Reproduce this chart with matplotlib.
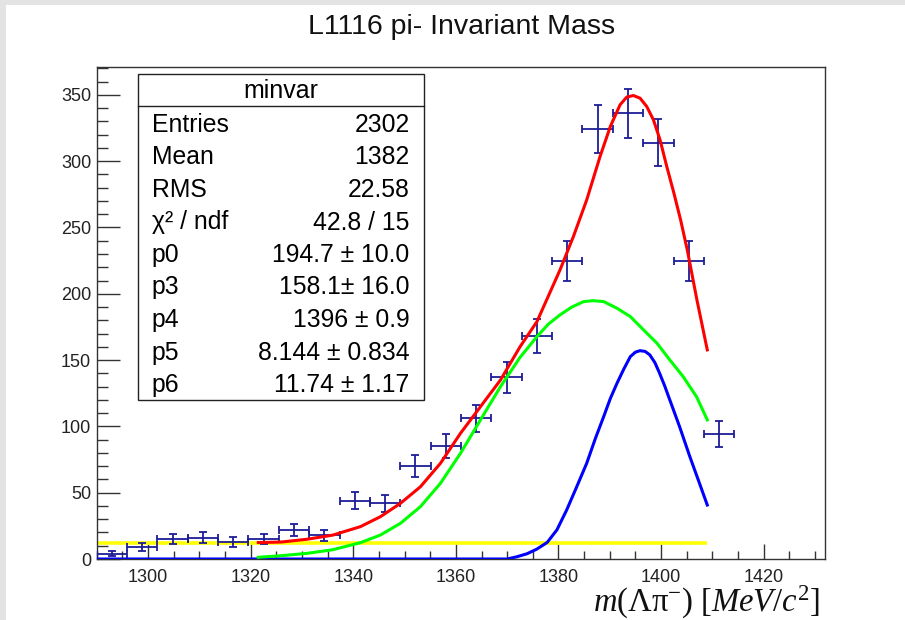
import matplotlib; matplotlib.use("Agg")
import matplotlib.pyplot as plt
from matplotlib.patches import Rectangle
from matplotlib.ticker import MultipleLocator
import numpy as np

plt.rcParams["font.family"] = ["Liberation Sans", "DejaVu Sans"]
plt.rcParams["mathtext.fontset"] = "custom"
plt.rcParams["mathtext.rm"] = "Liberation Serif"
plt.rcParams["mathtext.it"] = "Liberation Serif:italic"

# histogram (24 bins, 1290..1432), empty bins are not drawn
X_LO, X_HI, NBINS = 1290.0, 1432.0, 24
counts = [4, 9, 15, 16, 13, 15, 22, 18, 44, 42, 70, 85, 106, 137, 168, 225, 324, 336, 314, 225, 94, 0, 0, 0]
errors = [2.0, 3.0, 3.9, 4.0, 3.6, 3.9, 4.7, 4.2, 6.6, 6.5, 8.4, 9.2, 10.3, 11.7, 13.0, 15.0, 18.0, 18.3, 17.7, 15.0, 9.7, 0, 0, 0]

# fit curves
red_x = [1321.5, 1326.0, 1331.0, 1336.0, 1341.4, 1345.3, 1349.2, 1353.1, 1357.0, 1360.9, 1364.8, 1368.7,
         1372.5, 1375.8, 1380.3, 1382.9, 1385.5, 1388.1, 1390.1, 1392.0, 1393.3, 1394.6, 1395.9, 1397.2,
         1398.5, 1399.8, 1401.1, 1402.5, 1403.8, 1405.1, 1407.0, 1409.0]
red_y = [12.4, 12.8, 14.9, 18.0, 24.4, 31.9, 42.0, 54.5, 72.2, 94.8, 114.9, 135.0,
         160.0, 179.0, 218.0, 243.1, 270.8, 303.5, 326.1, 342.5, 348.3, 349.5, 347.5, 341.2,
         331.2, 316.0, 296.0, 275.8, 255.7, 233.1, 195.0, 157.7]
green_x = [1321.5, 1326.0, 1331.1, 1336.0, 1341.4, 1345.3, 1349.2, 1353.1, 1357.0, 1360.9, 1364.8, 1368.7,
           1372.5, 1375.8, 1378.0, 1380.3, 1382.6, 1384.9, 1386.8, 1388.8, 1391.4, 1394.0, 1396.6, 1399.2,
           1401.7, 1404.3, 1406.9, 1409.0]
green_y = [1.3, 2.5, 4.3, 7.0, 12.3, 18.1, 26.9, 39.5, 57.1, 79.7, 104.9, 130.0,
           152.0, 167.7, 177.0, 184.1, 190.0, 194.1, 194.8, 194.1, 189.1, 182.8, 172.7, 162.7,
           150.1, 137.5, 122.4, 104.9]
blue_x = [1290.2, 1370.0, 1371.9, 1373.9, 1375.8, 1377.8, 1379.7, 1381.6, 1383.5, 1385.5, 1387.2, 1388.8,
          1390.1, 1391.4, 1392.7, 1394.0, 1395.0, 1395.9, 1396.9, 1397.8, 1398.8, 1399.7, 1400.7, 1401.7,
          1403.6, 1405.6, 1407.3, 1409.0]
blue_y = [0.0, 0.0, 1.7, 4.0, 7.5, 12.5, 22.0, 37.0, 54.0, 72.2, 91.0, 107.3,
          121.0, 132.5, 143.0, 152.6, 156.0, 157.1, 156.5, 153.9, 148.0, 140.1, 130.5, 119.9,
          99.8, 77.2, 59.0, 40.7]
const_x = [1290.2, 1409.0]
const_y = [11.74, 11.74]

stats_labels = ["Entries", "Mean", "RMS", "\u03c7\u00b2 / ndf", "p0", "p3", "p4", "p5", "p6"]
stats_values = ["2302", "1382", "22.58", "42.8 / 15", "194.7 \u00b1 10.0", "158.1\u00b1 16.0",
                "1396 \u00b1 0.9", "8.144 \u00b1 0.834", "11.74 \u00b1 1.17"]

W, H = 905, 620
fig = plt.figure(figsize=(W / 100, H / 100), dpi=100)
fig.patch.set_facecolor("white")
# grey slide border on the left and top
fig.add_artist(Rectangle((0, 0), 6 / W, 1, transform=fig.transFigure, fc="#e3e3e3", ec="none"))
fig.add_artist(Rectangle((0, 1 - 5 / H), 1, 5 / H, transform=fig.transFigure, fc="#e3e3e3", ec="none"))

L, R, T, B = 96.7, 825.3, 67, 559
ax = fig.add_axes([L / W, 1 - B / H, (R - L) / W, (B - T) / H])
ax.set_xlim(X_LO, X_HI)
ax.set_ylim(0, 371)

edges = np.linspace(X_LO, X_HI, NBINS + 1)
centers = 0.5 * (edges[:-1] + edges[1:])
half = 0.5 * (edges[1] - edges[0])
c = np.array(counts, float); e = np.array(errors, float)
m = c > 0
navy = "#1c1c96"
ax.errorbar(centers[m], c[m], xerr=half, yerr=e[m], fmt="none", ecolor=navy,
            elinewidth=1.3, capsize=2.6, capthick=1.3, zorder=3)

ax.plot(const_x, const_y, color="#ffff00", lw=2.6, zorder=2, solid_capstyle="butt")
ax.plot(blue_x, blue_y, color="#0000ff", lw=2.2, zorder=4, solid_joinstyle="round")
ax.plot(green_x, green_y, color="#00ff00", lw=2.2, zorder=4, solid_joinstyle="round")
ax.plot(red_x, red_y, color="#ff0000", lw=2.2, zorder=5, solid_joinstyle="round")

for s in ax.spines.values():
    s.set_color("#333333"); s.set_linewidth(1.0)
ax.xaxis.set_major_locator(MultipleLocator(20))
ax.xaxis.set_minor_locator(MultipleLocator(5))
ax.yaxis.set_major_locator(MultipleLocator(50))
ax.yaxis.set_minor_locator(MultipleLocator(10))
ax.tick_params(axis="x", which="major", direction="in", length=10.8, width=1.0, color="#333333",
               labelsize=13, pad=7, labelcolor="#222222")
ax.tick_params(axis="x", which="minor", direction="in", length=5.8, width=1.0, color="#333333")
ax.tick_params(axis="y", which="major", direction="in", length=16.6, width=1.0, color="#333333",
               labelsize=13, pad=4, labelcolor="#222222")
ax.tick_params(axis="y", which="minor", direction="in", length=8.0, width=1.0, color="#333333")

# title and axis label
fig.text(462 / W, 1 - 27 / H, "L1116 pi- Invariant Mass", ha="center", va="center",
         fontsize=20.5, color="#111111")
fig.text(820 / W, 1 - 612 / H, r"$m(\mathrm{\Lambda\pi^{-}})\ [MeV/c^{2}]$", ha="right",
         va="baseline", fontsize=23.5, color="#111111")

# stats box
bx0, bx1, by0, by1 = 138.3, 424.3, 74, 400
fig.add_artist(Rectangle((bx0 / W, 1 - by1 / H), (bx1 - bx0) / W, (by1 - by0) / H,
                         transform=fig.transFigure, fc="white", ec="#222222", lw=1.0, zorder=10))
fig.add_artist(plt.Line2D([bx0 / W, bx1 / W], [1 - 105.7 / H] * 2, transform=fig.transFigure,
                          color="#222222", lw=1.0, zorder=11))
fig.text((bx0 + bx1) / 2 / W, 1 - 91 / H, "minvar", ha="center", va="center", fontsize=18, zorder=12)
for i, (lab, val) in enumerate(zip(stats_labels, stats_values)):
    yy = 1 - (125 + i * 32.5) / H
    fig.text(151.7 / W, yy, lab, ha="left", va="center", fontsize=17.8, zorder=12)
    fig.text(409.5 / W, yy, val, ha="right", va="center", fontsize=17.8, zorder=12)

fig.savefig("out.png", dpi=100)
